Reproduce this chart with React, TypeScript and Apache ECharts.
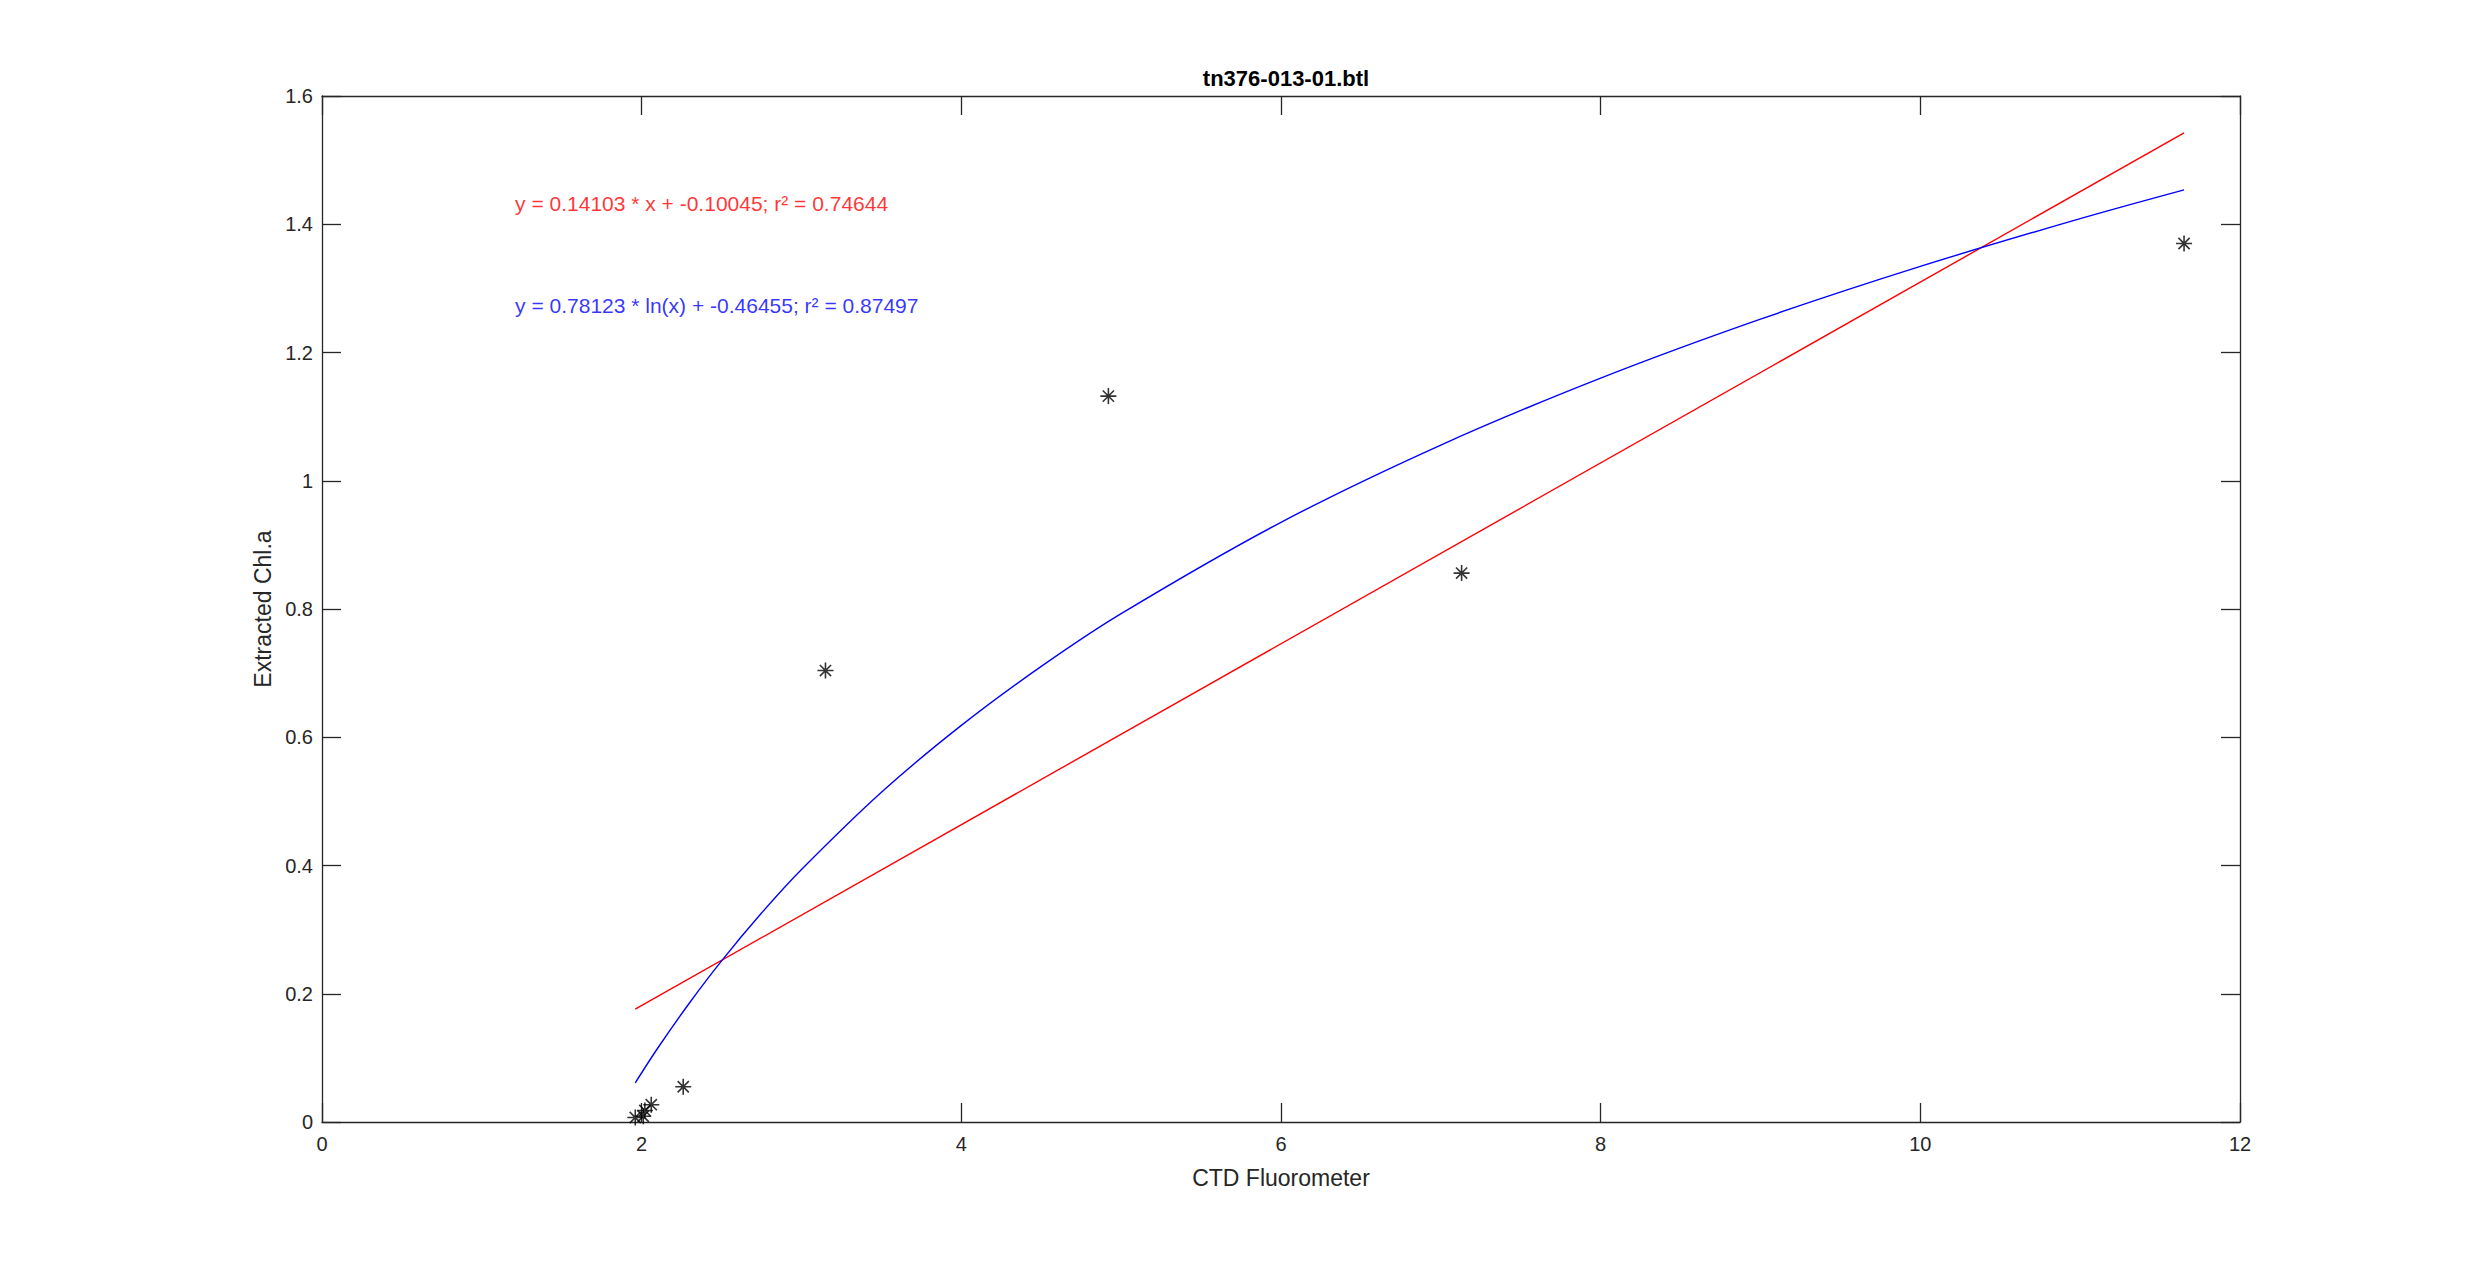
import React, { useEffect, useRef } from "react";
import * as echarts from "echarts";

const chartTitle = "tn376-013-01.btl";
const xAxisName = "CTD Fluorometer";
const yAxisName = "Extracted Chl.a";

const xTicks = { min: 0, max: 12, interval: 2 };
const yTicks = { min: 0, max: 1.6, interval: 0.2 };

// bottle samples (CTD fluorometer, extracted Chl a)
const samples: [number, number][] = [
  [1.96, 0.007],
  [2.01, 0.009],
  [2.02, 0.018],
  [2.06, 0.027],
  [2.26, 0.055],
  [3.15, 0.704],
  [4.92, 1.132],
  [7.13, 0.856],
  [11.65, 1.37],
];

// linear fit line (endpoints at sample x range)
const linearFit: [number, number][] = [
  [1.96, 0.176],
  [11.65, 1.5425],
];

// logarithmic fit curve read along its path
const logFit: [number, number][] = [
  [1.96, 0.0611],
  [2.1, 0.115],
  [2.3, 0.186],
  [2.5, 0.2513],
  [2.75, 0.3258],
  [3.0, 0.3937],
  [3.5, 0.5142],
  [4.0, 0.6185],
  [4.5, 0.7105],
  [5.0, 0.7928],
  [6.0, 0.9352],
  [7.0, 1.0557],
  [8.0, 1.16],
  [9.0, 1.252],
  [10.0, 1.3343],
  [11.0, 1.4088],
  [11.65, 1.4537],
];

const linearLabel = "y = 0.14103 * x + -0.10045; r² = 0.74644";
const logLabel = "y = 0.78123 * ln(x) + -0.46455; r² = 0.87497";
const labelAnchors: [number, number][] = [
  [1.208, 1.433],
  [1.208, 1.274],
];

const FONT = "Liberation Sans, Arial, Helvetica, sans-serif";
const AX = "#262626";
const STAR = "path://M0,-10L0,10M-10,0L10,0M-7,-7L7,7M-7,7L7,-7";

export default function App() {
  const ref = useRef<HTMLDivElement>(null);
  useEffect(() => {
    document.body.style.margin = "0";
    const chart = echarts.init(ref.current!, null, { renderer: "svg" });
    const axisCommon = {
      axisLine: { show: true, onZero: false, lineStyle: { color: AX, width: 1.3 } },
      axisTick: { show: true, inside: true, length: 19, lineStyle: { color: AX, width: 1.3 } },
      splitLine: { show: false },
    };
    chart.setOption({
      animation: false,
      backgroundColor: "#ffffff",
      title: {
        text: chartTitle,
        left: 1281,
        textAlign: "center",
        top: 62,
        textStyle: { fontFamily: FONT, fontWeight: "bold", fontSize: 22, color: "#000" },
      },
      grid: { left: 322, right: 235, top: 96, bottom: 139, containLabel: false },
      xAxis: [
        {
          type: "value",
          position: "bottom",
          min: xTicks.min,
          max: xTicks.max,
          interval: xTicks.interval,
          name: xAxisName,
          nameLocation: "middle",
          nameGap: 44,
          nameTextStyle: { fontFamily: FONT, fontSize: 23, color: AX },
          axisLabel: { fontFamily: FONT, fontSize: 20, color: AX, margin: 12 },
          ...axisCommon,
        },
        {
          type: "value",
          position: "top",
          min: xTicks.min,
          max: xTicks.max,
          interval: xTicks.interval,
          axisLabel: { show: false },
          ...axisCommon,
        },
      ],
      yAxis: [
        {
          type: "value",
          position: "left",
          min: yTicks.min,
          max: yTicks.max,
          interval: yTicks.interval,
          name: yAxisName,
          nameLocation: "middle",
          nameGap: 46,
          nameTextStyle: { fontFamily: FONT, fontSize: 23, color: AX },
          axisLabel: { fontFamily: FONT, fontSize: 20, color: AX, margin: 9 },
          ...axisCommon,
        },
        {
          type: "value",
          position: "right",
          min: yTicks.min,
          max: yTicks.max,
          interval: yTicks.interval,
          axisLabel: { show: false },
          ...axisCommon,
        },
      ],
      series: [
        {
          type: "line",
          name: "linear",
          data: linearFit,
          showSymbol: false,
          symbol: "none",
          lineStyle: { color: "#ff0000", width: 1.4 },
          z: 2,
        },
        {
          type: "line",
          name: "log",
          data: logFit,
          smooth: 0.3,
          showSymbol: false,
          symbol: "none",
          lineStyle: { color: "#0000ff", width: 1.4 },
          z: 2,
        },
        {
          type: "scatter",
          name: "samples",
          data: samples,
          symbol: STAR,
          symbolSize: 16,
          itemStyle: { color: "transparent", borderColor: "#000", borderWidth: 1.6 },
          z: 3,
        },
        {
          type: "scatter",
          name: "labels",
          data: [
            { value: labelAnchors[0], label: { formatter: linearLabel, color: "#ff0000" } },
            { value: labelAnchors[1], label: { formatter: logLabel, color: "#0000ff" } },
          ],
          symbolSize: 0,
          silent: true,
          label: { show: true, position: "right", distance: 0, fontFamily: FONT, fontSize: 21 },
          z: 4,
        },
      ],
    });
    return () => chart.dispose();
  }, []);
  return (
    <div
      ref={ref}
      style={{ position: "absolute", left: 0, top: 0, width: 2475, height: 1261 }}
    />
  );
}
